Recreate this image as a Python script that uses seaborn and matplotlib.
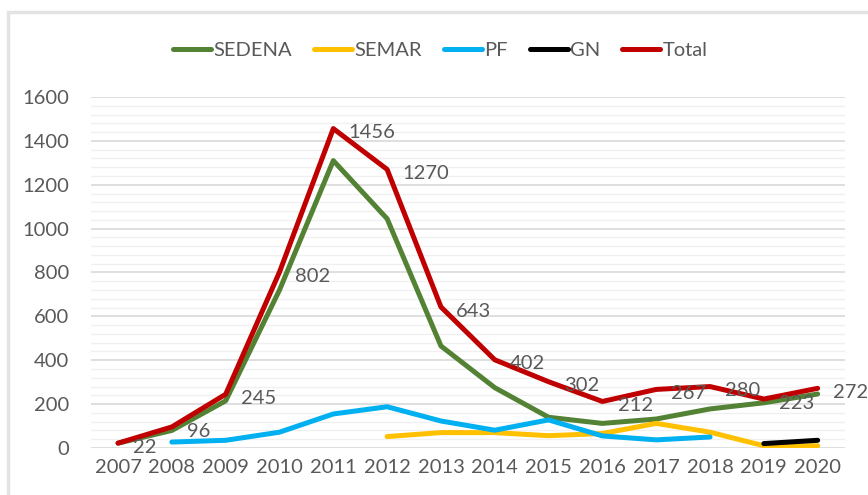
import seaborn as sns
import matplotlib.pyplot as plt
import matplotlib.patches as mpatches
from matplotlib.lines import Line2D
from matplotlib.ticker import MultipleLocator
import pandas as pd

years = list(range(2007, 2021))
series_names = ['SEDENA', 'SEMAR', 'PF', 'GN', 'Total']

sedena = [22, 80, 215, 720, 1310, 1045, 465, 275, 140, 112, 132, 178, 206, 246]
semar = [None, None, None, None, None, 52, 70, 70, 56, 66, 112, 72, 10, 10]
pf = [None, 27, 35, 72, 155, 188, 123, 81, 128, 55, 37, 50, None, None]
gn = [None] * 12 + [20, 35]
total = [22, 96, 245, 802, 1456, 1270, 643, 402, 302, 212, 267, 280, 223, 272]

colors = {'SEDENA': '#548235', 'SEMAR': '#FFC000', 'PF': '#00B0F0',
          'GN': '#000000', 'Total': '#C00000'}
text_color = '#595959'
fsize = 14.5

# long form table for seaborn
rows = []
for name, vals in zip(series_names, [sedena, semar, pf, gn, total]):
    for y, v in zip(years, vals):
        if v is not None:
            rows.append({'year': y, 'value': v, 'serie': name})
df = pd.DataFrame(rows)

sns.set_style('white')
plt.rcParams['font.family'] = ['Lato', 'DejaVu Sans']

fig = plt.figure(figsize=(8.68, 4.95), dpi=100)
ax = fig.add_axes([0.105, 0.095, 0.868, 0.709])

# light frame around the chart
fig.patches.append(mpatches.Rectangle((8 / 868, -0.05), 1.1, 1 - 12 / 495 + 0.05,
                                      transform=fig.transFigure, fill=False,
                                      edgecolor='#e3e3e3', linewidth=2.5))

sns.lineplot(data=df, x='year', y='value', hue='serie', hue_order=series_names,
             palette=colors, linewidth=3.6, legend=False, ax=ax,
             solid_capstyle='round')

# data labels of the total
for y, v in zip(years, total):
    ax.annotate(str(v), (y, v), xytext=(11, -3),
                textcoords='offset points', ha='left', va='center',
                fontsize=fsize, color=text_color)

ax.set_xlim(2006.5, 2020.5)
ax.set_ylim(0, 1600)
ax.yaxis.set_major_locator(MultipleLocator(200))
ax.yaxis.set_minor_locator(MultipleLocator(40))
ax.set_xticks(years)
ax.grid(axis='y', which='major', color='#d9d9d9', linewidth=1.2)
ax.grid(axis='y', which='minor', color='#f0f0f0', linewidth=1.0)
ax.grid(axis='x', visible=False)
ax.set_axisbelow(True)
for s in ax.spines.values():
    s.set_visible(False)
ax.tick_params(axis='y', which='both', length=0, pad=16, labelsize=fsize, labelcolor=text_color)
ax.tick_params(axis='x', length=0, pad=8, labelsize=fsize, labelcolor=text_color)
ax.set_xlabel('')
ax.set_ylabel('')

handles = [Line2D([0], [0], color=colors[n], linewidth=3.6, solid_capstyle='round')
           for n in series_names]
fig.legend(handles, series_names, loc='center', bbox_to_anchor=(0.507, 1 - 50 / 495),
           ncol=5, frameon=False, fontsize=fsize, labelcolor=text_color,
           handlelength=1.9, handletextpad=0.1, columnspacing=1.1)

fig.savefig('out.png', dpi=100)
